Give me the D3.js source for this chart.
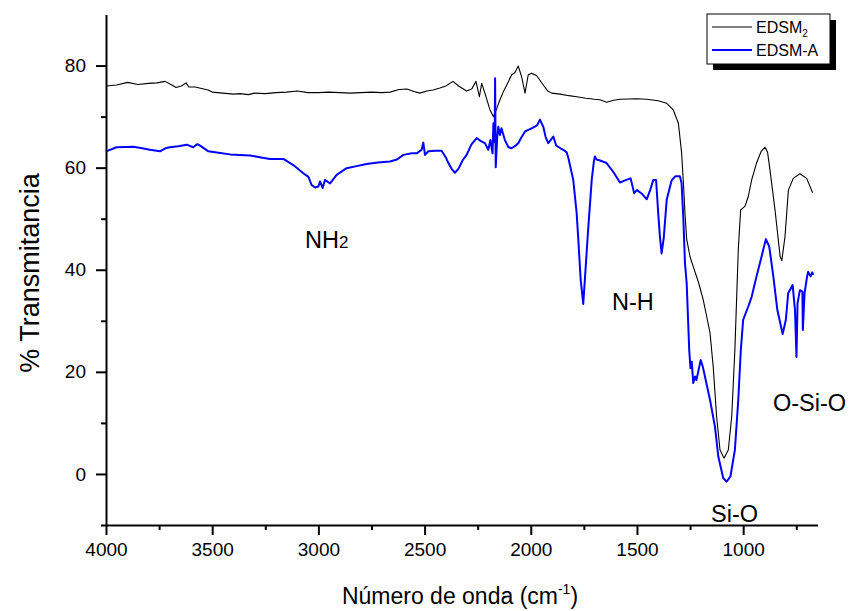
<!DOCTYPE html>
<html><head><meta charset="utf-8">
<script src="https://cdn.jsdelivr.net/npm/d3@7"></script>
<style>body{margin:0;background:#fff}svg{display:block;font-family:"Liberation Sans",Arial,sans-serif}</style>
</head><body><svg id="c" width="849" height="611"></svg>
<script>
// ---- data ----
const edsm2Wn = [4000,3950,3898,3850,3800,3760,3722,3690,3670,3645,3623,3610,3580,3550,3520,3500,3450,3400,3369,3330,3300,3250,3200,3150,3100,3050,3000,2950,2900,2850,2800,2750,2700,2663,2620,2583,2550,2522,2490,2460,2428,2400,2366,2340,2302,2278,2258,2242,2231,2216,2192,2176,2160,2145,2130,2113,2090,2075,2059,2043,2027,2012,1996,1972,1941,1920,1902,1862,1820,1784,1740,1700,1674,1643,1610,1580,1500,1454,1400,1360,1329,1305,1290,1280,1274,1266,1250,1235,1210,1188,1170,1156,1141,1125,1109,1090,1070,1054,1039,1023,1012,992,976,960,937,915,897,885,874,850,826,818,803,787,764,733,701,673];
const edsm2T = [76.0,76.2,76.7,76.3,76.5,76.6,76.9,76.2,75.7,76.0,76.6,75.8,75.8,75.5,75.2,74.8,74.6,74.4,74.5,74.3,74.6,74.5,74.7,74.8,75.0,74.7,74.7,74.8,74.7,74.6,74.7,74.8,74.7,74.8,75.3,75.4,74.9,74.6,75.0,75.2,75.6,76.0,76.9,76.0,75.0,75.4,76.9,73.9,76.5,74.6,71.3,70.0,71.6,73.3,74.8,76.2,78.2,78.6,79.9,77.8,74.6,78.2,78.5,78.0,76.2,75.0,74.6,74.4,74.1,73.9,73.6,73.4,73.3,72.8,73.2,73.4,73.5,73.4,73.1,72.6,71.3,68.7,63.0,56.0,51.0,46.0,42.5,40.6,37.5,34.1,30.5,27.6,21.0,11.2,4.7,3.1,4.7,11.2,24.3,43.9,51.7,52.4,54.3,57.6,60.9,63.2,64.0,63.0,59.6,51.7,42.6,41.8,46.5,55.6,57.9,58.8,57.9,55.1];

const edsmAWn = [4000,3950,3871,3830,3793,3746,3720,3699,3660,3620,3590,3570,3557,3518,3470,3416,3370,3322,3270,3228,3165,3118,3071,3047,3032,3016,3000,2992,2980,2969,2945,2914,2867,2820,2773,2720,2663,2630,2600,2560,2537,2514,2506,2498,2482,2450,2420,2400,2388,2370,2357,2340,2320,2302,2280,2255,2235,2216,2200,2190,2180,2176,2170,2168,2165,2158,2153,2145,2138,2122,2105,2090,2075,2059,2043,2027,1996,1970,1957,1941,1930,1918,1905,1894,1880,1860,1847,1831,1823,1800,1784,1776,1765,1753,1745,1730,1713,1703,1698,1690,1674,1643,1612,1580,1550,1530,1513,1500,1477,1454,1438,1423,1410,1400,1392,1384,1374,1360,1337,1320,1298,1290,1282,1274,1266,1254,1248,1242,1235,1227,1220,1200,1190,1180,1156,1133,1117,1094,1078,1060,1039,1023,1011,1000,976,960,937,921,893,877,858,839,814,799,788,767,756,749,744,733,721,719,711,699,694,683,675,670];
const edsmAT = [63.2,64.0,64.1,63.8,63.5,63.2,63.8,64.0,64.2,64.5,64.0,64.6,64.3,63.2,62.9,62.6,62.5,62.4,62.0,61.7,61.7,60.5,58.9,58.2,56.6,56.1,56.3,57.3,56.0,57.6,56.9,58.6,59.9,60.3,60.7,61.0,61.2,61.6,62.5,62.8,62.8,63.5,64.9,62.5,63.2,63.3,63.3,62.0,60.9,59.6,59.0,59.8,61.5,62.5,64.5,65.8,65.2,64.8,63.5,65.4,62.8,68.7,65.0,77.5,60.1,66.0,68.0,66.4,67.7,65.4,64.0,63.8,64.2,64.8,66.0,67.1,67.7,68.3,69.4,68.0,66.0,64.8,65.5,66.1,64.3,63.8,63.5,63.0,61.9,57.6,51.1,45.8,38.0,33.3,38.3,47.8,57.6,61.2,62.2,61.6,61.4,60.9,59.2,57.1,57.6,57.9,55.0,55.6,54.9,53.8,55.6,57.6,57.6,51.1,46.5,43.2,46.2,53.7,57.5,58.3,58.3,57.0,50.4,41.3,37.4,24.3,20.7,22.0,17.8,19.1,18.4,22.3,21.0,19.1,14.5,9.3,3.4,-0.8,-1.5,-0.5,4.7,14.5,24.3,30.2,32.8,34.7,38.7,41.3,46.0,44.5,38.7,32.1,27.4,30.2,35.4,37.0,32.1,22.9,33.4,36.0,35.7,28.2,35.4,38.7,39.6,38.7,39.5,39.0];

const xMajor = [4000,3500,3000,2500,2000,1500,1000];
const xMinor = [3750,3250,2750,2250,1750,1250,750];
const yMajor = [0,20,40,60,80];
const yMinor = [-10,10,30,50,70];
const seriesNames = ["EDSM", "EDSM-A"];
const annotationText = ["NH", "N-H", "Si-O", "O-Si-O"];
const annotationSub = ["2", "", "", ""];
const annotationWn = [3063, 1618, 1151, 860];
const annotationT = [44.3, 32.1, -9.4, 12.3];

// ---- drawing ----
const svg = d3.select("#c");
const x = d3.scaleLinear().domain([4000,650]).range([106,817.5]);
const y = d3.scaleLinear().domain([-10,90]).range([525,14.5]);

const line = d3.line().x(d=>x(d[0])).y(d=>y(d[1]));
svg.append("path").datum(edsm2Wn.map((w,i)=>[w,edsm2T[i]]))
  .attr("d",line).attr("fill","none").attr("stroke","#000").attr("stroke-width",1.1).attr("stroke-linejoin","round");
svg.append("path").datum(edsmAWn.map((w,i)=>[w,edsmAT[i]]))
  .attr("d",line).attr("fill","none").attr("stroke","#0000ff").attr("stroke-width",2).attr("stroke-linejoin","round");

function styleAxis(g){
  g.selectAll("path,line").attr("stroke","#000").attr("stroke-width",2);
  g.selectAll("text").attr("fill","#000").style("font-family","Liberation Sans, Arial, sans-serif");
}
const gx = svg.append("g").attr("transform","translate(0,525)")
  .call(d3.axisBottom(x).tickValues(xMajor).tickSize(10).tickSizeOuter(0).tickPadding(8).tickFormat(d3.format("d")));
gx.selectAll("text").attr("font-size",19);
styleAxis(gx);
svg.append("g").attr("transform","translate(0,525)")
  .call(d3.axisBottom(x).tickValues(xMinor).tickSize(5).tickFormat(""))
  .call(g=>{g.select(".domain").remove();styleAxis(g);});

const gy = svg.append("g").attr("transform","translate(106,0)")
  .call(d3.axisLeft(y).tickValues(yMajor).tickSize(10).tickSizeOuter(0).tickPadding(10));
gy.selectAll("text").attr("font-size",19);
styleAxis(gy);
svg.append("g").attr("transform","translate(106,0)")
  .call(d3.axisLeft(y).tickValues(yMinor).tickSize(5).tickFormat(""))
  .call(g=>{g.select(".domain").remove();styleAxis(g);});

// axis titles
svg.append("text").attr("transform","translate(39,273) rotate(-90)").attr("text-anchor","middle")
  .attr("font-size",27).text("% Transmitancia");
const xt = svg.append("text").attr("x",460).attr("y",604).attr("text-anchor","middle").attr("font-size",23);
xt.append("tspan").text("Número de onda (cm");
xt.append("tspan").attr("font-size",14).attr("dy",-10).text("-1");
xt.append("tspan").attr("dy",10).text(")");

// annotations
annotationText.forEach((s,i)=>{
  const t = svg.append("text").attr("x",x(annotationWn[i])).attr("y",y(annotationT[i])).attr("font-size",23.5);
  t.append("tspan").text(s);
  if(annotationSub[i]) t.append("tspan").attr("font-size",17).text(annotationSub[i]);
});

// legend
const lg = svg.append("g");
lg.append("rect").attr("x",713).attr("y",20).attr("width",123).attr("height",50).attr("fill","#000");
lg.append("rect").attr("x",707).attr("y",14).attr("width",123).attr("height",50).attr("fill","#fff").attr("stroke","#000").attr("stroke-width",1);
const cols = ["#000","#0000ff"], widths=[1,2];
seriesNames.forEach((n,i)=>{
  const yy = 27 + i*23;
  lg.append("line").attr("x1",712).attr("x2",752).attr("y1",yy).attr("y2",yy).attr("stroke",cols[i]).attr("stroke-width",widths[i]);
  const t = lg.append("text").attr("x",756).attr("y",yy+6).attr("font-size",16);
  t.append("tspan").text(n);
  if(i===0) t.append("tspan").attr("font-size",10).attr("dy",4).text("2");
});
</script></body></html>
